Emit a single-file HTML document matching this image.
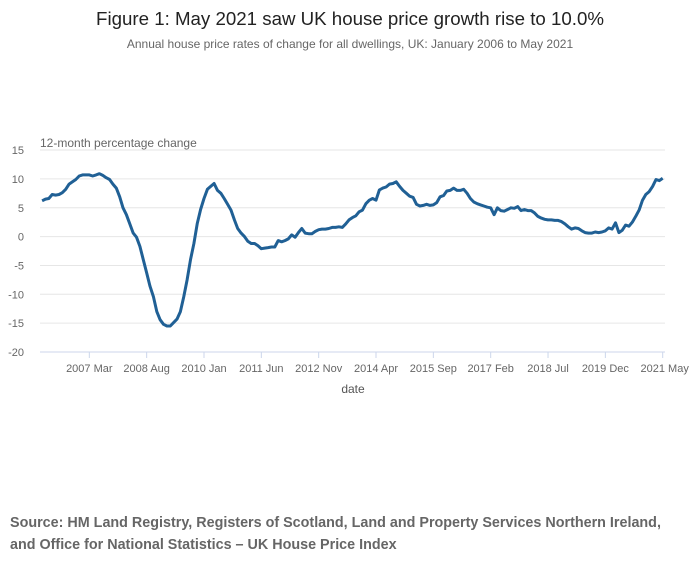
<!DOCTYPE html>
<html><head><meta charset="utf-8"><style>
body{margin:0;background:#fff;font-family:"Liberation Sans",sans-serif;}
svg text{font-family:"Liberation Sans",sans-serif;}
</style></head><body>
<svg id="c" width="700" height="574" xmlns="http://www.w3.org/2000/svg">
<text x="350" y="25" text-anchor="middle" font-size="18.7" fill="#222">Figure 1: May 2021 saw UK house price growth rise to 10.0%</text>
<text x="350" y="48" text-anchor="middle" font-size="12" fill="#666">Annual house price rates of change for all dwellings, UK: January 2006 to May 2021</text>
<text x="40" y="147" font-size="12" fill="#666">12-month percentage change</text>
<g id="grid"></g><g id="xa"></g>
<path id="line" fill="none" stroke="#206095" stroke-width="3" stroke-linejoin="round"/>
<text x="353" y="393" text-anchor="middle" font-size="12" fill="#555">date</text>
<text x="10" y="527" font-size="14.35" font-weight="bold" fill="#666">Source: HM Land Registry, Registers of Scotland, Land and Property Services Northern Ireland,</text>
<text x="10" y="549" font-size="14.35" font-weight="bold" fill="#666">and Office for National Statistics – UK House Price Index</text>
</svg>
<script>
const values=[6.2,6.5,6.6,7.3,7.2,7.3,7.6,8.2,9.1,9.5,9.9,10.5,10.7,10.7,10.7,10.5,10.7,10.9,10.6,10.2,9.9,9.1,8.4,6.9,5.0,3.8,2.2,0.6,-0.1,-1.7,-4.0,-6.3,-8.6,-10.4,-13.0,-14.4,-15.2,-15.5,-15.5,-14.9,-14.3,-13.0,-10.4,-7.5,-4.0,-1.2,2.3,4.7,6.6,8.2,8.7,9.2,8.0,7.5,6.6,5.6,4.6,2.9,1.4,0.6,0.0,-0.8,-1.2,-1.2,-1.6,-2.1,-2.0,-1.9,-1.8,-1.8,-0.7,-0.9,-0.7,-0.4,0.3,-0.1,0.7,1.4,0.6,0.5,0.5,0.9,1.2,1.3,1.3,1.4,1.6,1.6,1.7,1.6,2.2,2.9,3.3,3.6,4.3,4.6,5.7,6.3,6.6,6.3,8.1,8.4,8.6,9.1,9.2,9.5,8.7,8.0,7.5,7.0,6.8,5.6,5.3,5.4,5.6,5.4,5.5,5.9,6.9,7.1,7.9,8.0,8.4,8.0,8.0,8.2,7.5,6.6,6.0,5.7,5.5,5.3,5.1,5.0,3.8,5.0,4.5,4.4,4.7,5.0,4.9,5.2,4.5,4.7,4.5,4.5,4.1,3.5,3.2,3.0,2.9,2.9,2.8,2.8,2.6,2.2,1.7,1.3,1.5,1.4,1.0,0.7,0.6,0.6,0.8,0.7,0.8,1.0,1.5,1.3,2.4,0.7,1.1,2.0,1.8,2.5,3.5,4.6,6.3,7.3,7.8,8.7,9.9,9.7,10.1];
const yTicks=[15,10,5,0,-5,-10,-15,-20];
const xTickLabels=["2007 Mar","2008 Aug","2010 Jan","2011 Jun","2012 Nov","2014 Apr","2015 Sep","2017 Feb","2018 Jul","2019 Dec","2021 May"];
const xTickIdx=[14,31,48,65,82,99,116,133,150,167,184];
const NS="http://www.w3.org/2000/svg";
const x=i=>42.1+i*(662.7-42.1)/184;
const y=v=>236.6-v*5.77;
const g=document.getElementById('grid'),xa=document.getElementById('xa');
function mk(t,a,p){const e=document.createElementNS(NS,t);for(const k in a)e.setAttribute(k,a[k]);p.appendChild(e);return e;}
yTicks.forEach(v=>{
 const l=mk('line',{x1:40,x2:665,y1:y(v),y2:y(v),stroke:v===-20?'#ccd6eb':'#e6e6e6','stroke-width':1},g);
 
 
 const t=mk('text',{x:24,y:y(v)+4,'text-anchor':'end','font-size':11,fill:'#666'},g);t.textContent=v;
 
 
});
xTickIdx.forEach((i,k)=>{
 const l=mk('line',{x1:x(i),x2:x(i),y1:y(-20),y2:y(-20)+6,stroke:'#ccd6eb'},xa);
 
 
 const t=mk('text',{x:x(i),y:372,'text-anchor':'middle','font-size':11,fill:'#666'},xa);t.textContent=xTickLabels[k];
 if(k===xTickLabels.length-1)t.setAttribute('x',x(i)+2);
 
 
});
document.getElementById('line').setAttribute('d',values.map((v,i)=>(i?'L':'M')+x(i).toFixed(1)+' '+y(v).toFixed(1)).join(''));
</script>
</body></html>
